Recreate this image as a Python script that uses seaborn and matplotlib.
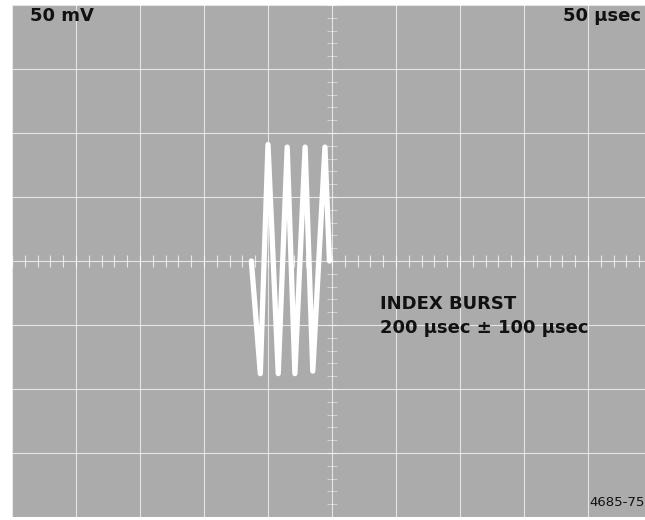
import numpy as np
import pandas as pd
import matplotlib
matplotlib.use("Agg")
import matplotlib.pyplot as plt
import seaborn as sns

# Oscilloscope settings (per division)
volts_per_div = 50      # mV
time_per_div = 50       # usec

# Turning points of the index burst trace
burst_time_us = [187, 194, 200, 208, 215, 221, 229, 235, 244.5, 248]
burst_mv = [0, -88, 91, -88, 89, -88, 89, -86, 89, 0]

sns.set_theme(style="white")
plt.rcParams['font.family'] = ['DejaVu Sans']

screen_gray = "#ababab"

fig = plt.figure(figsize=(6.45, 5.2), dpi=100)
fig.patch.set_facecolor("white")
# graticule: 10 x 8 divisions of 64 px, right edge cut off by the photo
ax = fig.add_axes([12 / 645, 3 / 520, 640 / 645, 512 / 520])
ax.set_facecolor(screen_gray)
for s in ax.spines.values():
    s.set_visible(False)

ax.set_xlim(0, 10 * time_per_div)
ax.set_ylim(-4 * volts_per_div, 4 * volts_per_div)
ax.set_xticks([])
ax.set_yticks([])

# major graticule lines
for i in range(0, 11):
    ax.axvline(i * time_per_div, color="white", lw=0.8, alpha=0.7, zorder=1)
for j in range(-4, 5):
    ax.axhline(j * volts_per_div, color="white", lw=0.8, alpha=0.7, zorder=1)

# minor ticks on the centre axes
cx = 5 * time_per_div
minor_t = np.arange(0, 10 * time_per_div + 1, time_per_div / 5)
minor_v = np.arange(-4 * volts_per_div, 4 * volts_per_div + 1, volts_per_div / 5)
ax.vlines(minor_t, -5, 5, color="white", lw=0.8, alpha=0.75, zorder=1)
ax.hlines(minor_v, cx - 4, cx + 4, color="white", lw=0.8, alpha=0.45, zorder=1)

# the trace
df = pd.DataFrame({"time": burst_time_us, "mv": burst_mv})
sns.lineplot(data=df, x="time", y="mv", sort=False, estimator=None,
             color="white", lw=3.8, ax=ax, zorder=3,
             solid_joinstyle="round", solid_capstyle="round")
ax.set_xlabel("")
ax.set_ylabel("")

# screen annotations
def px(x, y):
    return x / 645, 1 - y / 520

fig.text(*px(30, 16), "50 mV", fontsize=13, fontweight="bold", color="#111111",
         ha="left", va="center")
fig.text(*px(641, 16), "50 \u03bcsec", fontsize=13, fontweight="bold", color="#111111",
         ha="right", va="center")
fig.text(*px(380, 304), "INDEX BURST", fontsize=13, fontweight="bold", color="#111111",
         ha="left", va="center")
fig.text(*px(380, 328), "200 \u03bcsec \u00b1 100 \u03bcsec", fontsize=13, fontweight="bold",
         color="#111111", ha="left", va="center")
fig.text(*px(645, 502), "4685-75", fontsize=9.5, color="#111111", ha="right", va="center")

fig.savefig("out.png", dpi=100)
